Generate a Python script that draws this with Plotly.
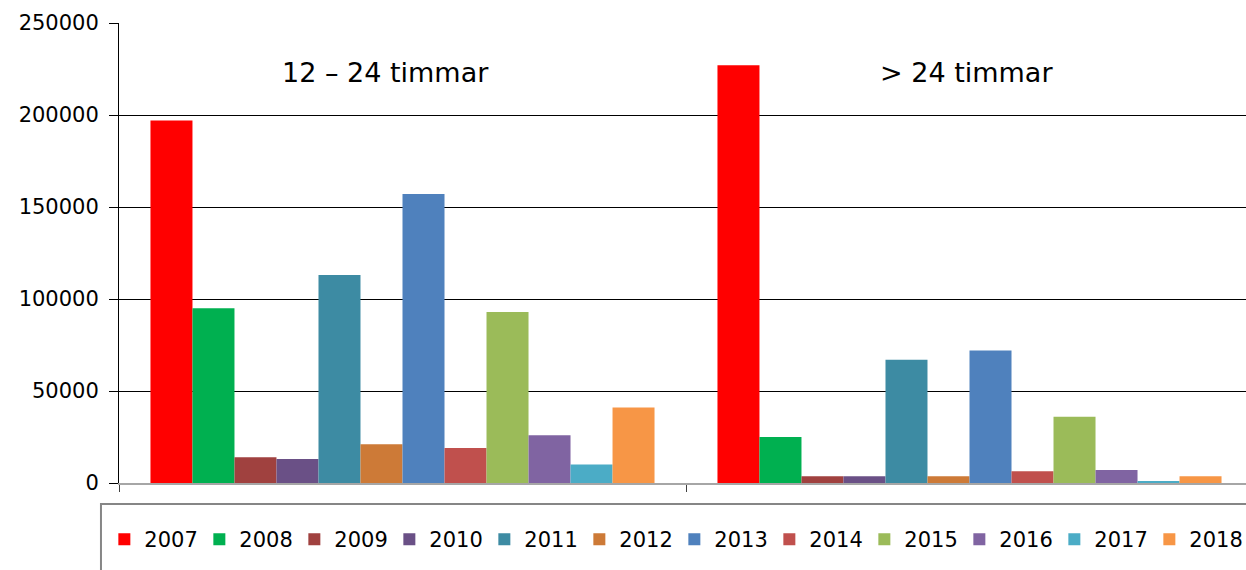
import plotly.graph_objects as go

categories = ["12 – 24 timmar", "> 24 timmar"]
years = ["2007", "2008", "2009", "2010", "2011", "2012",
         "2013", "2014", "2015", "2016", "2017", "2018"]
values_12_24 = [197000, 95000, 14000, 13000, 113000, 21000,
                157000, 19000, 93000, 26000, 10000, 41000]
values_over_24 = [227000, 25000, 3700, 3700, 67000, 3700,
                  72000, 6400, 36000, 7000, 1000, 3700]
colors = ["#FF0000", "#00B050", "#A0413F", "#6A5086", "#3D8BA3", "#CD7A37",
          "#4F81BD", "#C0504D", "#9BBB59", "#8064A2", "#4BACC6", "#F79646"]

FONT = "DejaVu Sans, Verdana, sans-serif"

fig = go.Figure()
xpos = list(range(len(categories)))
for i, y in enumerate(years):
    fig.add_trace(go.Bar(
        x=xpos,
        y=[values_12_24[i], values_over_24[i]],
        name=y,
        marker=dict(color=colors[i], line=dict(width=0)),
        hovertext=categories,
    ))

fig.update_layout(
    width=1246, height=570,
    margin=dict(l=119, r=0, t=23, b=87),
    paper_bgcolor="white", plot_bgcolor="white",
    barmode="group", bargap=0.111, bargroupgap=0,
    font=dict(family=FONT, color="black", size=21),
    showlegend=True,
    legend=dict(
        orientation="h",
        x=-0.0130, xanchor="left",
        y=-0.1228, yanchor="middle",
        font=dict(family=FONT, size=21, color="black"),
        entrywidth=50, entrywidthmode="pixels",
        itemwidth=30,
        bgcolor="rgba(0,0,0,0)",
        traceorder="normal",
    ),
    xaxis=dict(
        range=[-0.5, -0.5 + 1127 / 567],
        tickvals=[-0.5, 0.5, 1.5],
        ticktext=["", "", ""],
        ticks="outside", ticklen=7, tickcolor="#404040", tickwidth=1,
        showgrid=False, zeroline=False,
        showline=True, linecolor="#A6A6A6", linewidth=2,
        fixedrange=True,
    ),
    yaxis=dict(
        range=[0, 250000],
        tickvals=[0, 50000, 100000, 150000, 200000, 250000],
        ticktext=["0", "50000", "100000", "150000", "200000", "250000"],
        ticks="outside", ticklen=9, tickcolor="black", tickwidth=1,
        showgrid=True, gridcolor="black", gridwidth=1,
        zeroline=False,
        showline=True, linecolor="black", linewidth=1,
        tickfont=dict(family=FONT, size=21, color="black"),
        ticklabelstandoff=6,
        fixedrange=True,
    ),
    annotations=[
        dict(x=-0.03, y=0.893, xref="x", yref="paper", text=categories[0],
             showarrow=False, font=dict(family=FONT, size=27, color="black"),
             xanchor="center", yanchor="middle"),
        dict(x=0.995, y=0.893, xref="x", yref="paper", text=categories[1],
             showarrow=False, font=dict(family=FONT, size=27, color="black"),
             xanchor="center", yanchor="middle"),
    ],
    shapes=[
        dict(type="rect", xref="paper", yref="paper",
             x0=-0.0160, x1=1.01, y0=-0.25, y1=-0.0457,
             line=dict(color="#868686", width=2), fillcolor="rgba(0,0,0,0)",
             layer="below"),
    ],
)

fig.write_html(
    "out.html",
    config={"displayModeBar": False},
    post_script="document.body.style.margin='0px';document.body.style.overflow='hidden';",
)
